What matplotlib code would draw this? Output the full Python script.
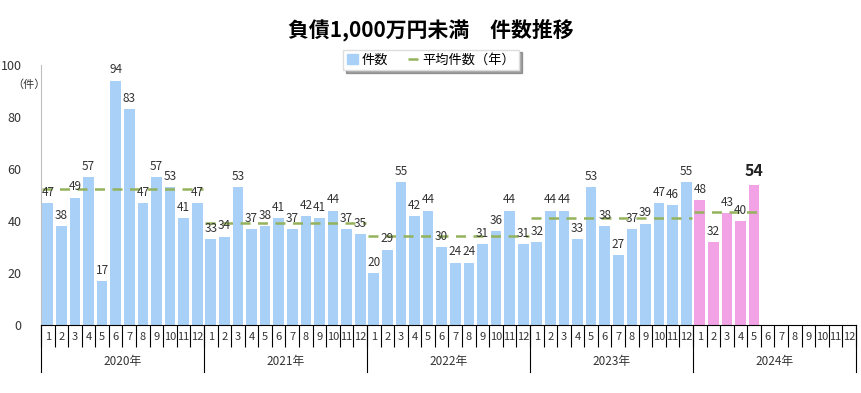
import numpy as np
import matplotlib.pyplot as plt
import matplotlib.transforms as mtransforms
from matplotlib.lines import Line2D
from matplotlib.patches import Patch

plt.rcParams['font.family'] = ['Noto Sans CJK JP', 'DejaVu Sans']

# データ
years = ['2020年', '2021年', '2022年', '2023年', '2024年']
months = [str(m) for m in range(1, 13)]
counts_2020 = [47, 38, 49, 57, 17, 94, 83, 47, 57, 53, 41, 47]
counts_2021 = [33, 34, 53, 37, 38, 41, 37, 42, 41, 44, 37, 35]
counts_2022 = [20, 29, 55, 42, 44, 30, 24, 24, 31, 36, 44, 31]
counts_2023 = [32, 44, 44, 33, 53, 38, 27, 37, 39, 47, 46, 55]
counts_2024 = [48, 32, 43, 40, 54]
yearly_avg = [52.5, 39.3, 34.2, 41.3, 43.4]

all_counts = [counts_2020, counts_2021, counts_2022, counts_2023, counts_2024]

blue = '#A9D1F7'
pink = '#F2A3E6'
green = '#95B25C'

fig = plt.figure(figsize=(8.62, 3.93), dpi=100)
ax = fig.add_axes([41/862, 1-325/393, 815/862, 260/393])

for yi, vals in enumerate(all_counts):
    x = np.arange(len(vals)) + yi * 12
    col = pink if yi == 4 else blue
    ax.bar(x, vals, width=0.78, color=col, zorder=2)
    ax.plot([x[0] - 0.45, x[-1] + 0.45], [yearly_avg[yi]] * 2, color=green,
            lw=1.8, ls=(0, (4, 3)), zorder=3)
    for xi, v in zip(x, vals):
        if yi == 4 and xi == x[-1]:
            ax.annotate(str(v), (xi, v), xytext=(0, 4), textcoords='offset points',
                        ha='center', va='bottom', fontsize=11.5, fontweight='bold',
                        color='#222222', zorder=4)
        else:
            ax.annotate(str(v), (xi, v), xytext=(0, 3), textcoords='offset points',
                        ha='center', va='bottom', fontsize=8.5, color='#333333', zorder=4)

ax.set_xlim(-0.5, 59.5)
ax.set_ylim(0, 100)
ax.set_yticks(range(0, 101, 20))
ax.tick_params(axis='y', length=0, pad=14, labelsize=9, labelcolor='#333333')
ax.set_xticks(np.arange(-0.5, 60, 1))
ax.set_xticklabels([])
ax.tick_params(axis='x', length=16, width=0.8, direction='out', color='black')

for s in ['top', 'right']:
    ax.spines[s].set_visible(False)
ax.spines['left'].set_color('#BFBFBF')
ax.spines['bottom'].set_color('black')

trans = mtransforms.blended_transform_factory(ax.transData, ax.transAxes)
for i in range(60):
    ax.text(i, -12/260, months[i % 12], transform=trans, ha='center', va='center',
            fontsize=8, color='#333333')
for yi in range(6):
    ax.plot([yi * 12 - 0.5] * 2, [0, -47/260], transform=trans, color='black',
            lw=0.8, clip_on=False)
for yi, yl in enumerate(years):
    ax.text(yi * 12 + 5.5, -36/260, yl, transform=trans, ha='center', va='center',
            fontsize=8.5, color='#333333')

fig.text(12/862, 1-85/393, '（件）', fontsize=8, color='#333333', va='center')

fig.suptitle('負債1,000万円未満　件数推移', x=0.5, y=1-30/393, va='center',
             fontsize=15, fontweight='bold')

handles = [Patch(color=blue, label='件数'),
           Line2D([0], [0], color=green, lw=1.8, ls=(0, (4, 3)), label='平均件数（年）')]
leg = fig.legend(handles=handles, loc='center', bbox_to_anchor=(0.5, 1-60/393), ncol=2,
                 fontsize=9.5, frameon=True, fancybox=False, shadow=True,
                 handlelength=0.8, handletextpad=0.3, columnspacing=1.5,
                 borderpad=0.3, edgecolor='#DDDDDD')

fig.savefig('out.png', dpi=100)
